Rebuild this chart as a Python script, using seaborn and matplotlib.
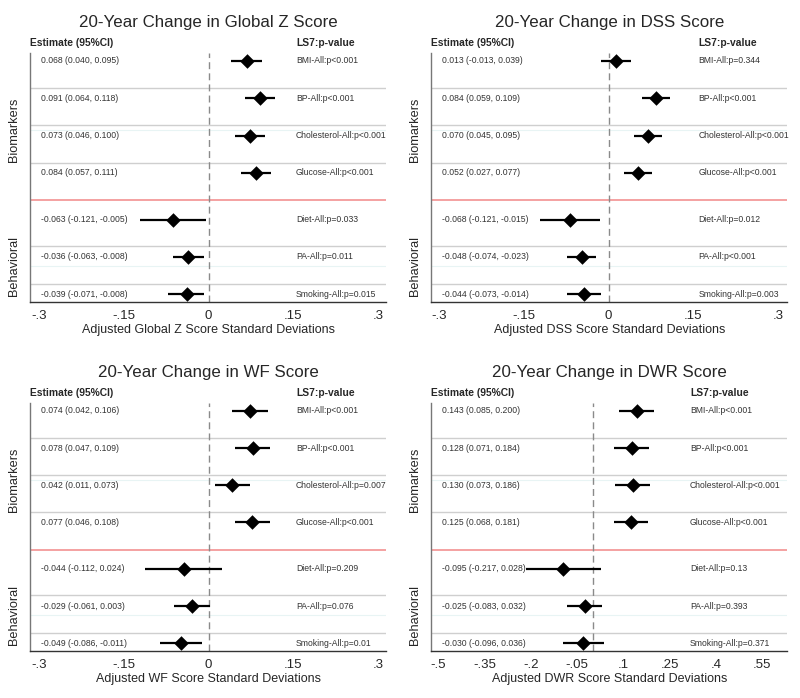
import numpy as np
import pandas as pd
import matplotlib
matplotlib.use("Agg")
import matplotlib.pyplot as plt
import seaborn as sns

# Datos de cada panel
factors = ["BMI", "BP", "Cholesterol", "Glucose", "Diet", "PA", "Smoking"]
groups = ["Biomarkers", "Behavioral"]

global_est = [0.068, 0.091, 0.073, 0.084, -0.063, -0.036, -0.039]
global_lo = [0.040, 0.064, 0.046, 0.057, -0.121, -0.063, -0.071]
global_hi = [0.095, 0.118, 0.100, 0.111, -0.005, -0.008, -0.008]
global_p = ["p<0.001", "p<0.001", "p<0.001", "p<0.001", "p=0.033", "p=0.011", "p=0.015"]

dss_est = [0.013, 0.084, 0.070, 0.052, -0.068, -0.048, -0.044]
dss_lo = [-0.013, 0.059, 0.045, 0.027, -0.121, -0.074, -0.073]
dss_hi = [0.039, 0.109, 0.095, 0.077, -0.015, -0.023, -0.014]
dss_p = ["p=0.344", "p<0.001", "p<0.001", "p<0.001", "p=0.012", "p<0.001", "p=0.003"]

wf_est = [0.074, 0.078, 0.042, 0.077, -0.044, -0.029, -0.049]
wf_lo = [0.042, 0.047, 0.011, 0.046, -0.112, -0.061, -0.086]
wf_hi = [0.106, 0.109, 0.073, 0.108, 0.024, 0.003, -0.011]
wf_p = ["p<0.001", "p<0.001", "p=0.007", "p<0.001", "p=0.209", "p=0.076", "p=0.01"]

dwr_est = [0.143, 0.128, 0.130, 0.125, -0.095, -0.025, -0.030]
dwr_lo = [0.085, 0.071, 0.073, 0.068, -0.217, -0.083, -0.096]
dwr_hi = [0.200, 0.184, 0.186, 0.181, 0.028, 0.032, 0.036]
dwr_p = ["p<0.001", "p<0.001", "p<0.001", "p<0.001", "p=0.13", "p=0.393", "p=0.371"]

std_ticks = [-0.3, -0.15, 0, 0.15, 0.3]
std_labels = ["-.3", "-.15", "0", ".15", ".3"]
dwr_ticks = [-0.5, -0.35, -0.2, -0.05, 0.1, 0.25, 0.4, 0.55]
dwr_labels = ["-.5", "-.35", "-.2", "-.05", ".1", ".25", ".4", ".55"]

sns.set_style("white")
plt.rcParams["font.family"] = ["Liberation Sans", "DejaVu Sans"]

fig = plt.figure(figsize=(8, 6.98), dpi=100)

# posiciones verticales de las filas
rows = [0, 1, 2, 3, 4.25, 5.25, 6.25]
seps = [0.72, 1.73, 2.73, 4.96, 5.98]
red_sep = 3.73
group_pos = [1.85, 5.5]


def forest(rect, title, xlabel, est, lo, hi, pv, ticks, tlabels, xlim, lab_x):
    ax = fig.add_axes(rect)
    df = pd.DataFrame({"factor": factors, "est": est, "lo": lo, "hi": hi,
                       "p": pv, "y": rows})
    ax.set_xlim(*xlim)
    ax.set_ylim(6.46, -0.21)

    for g in group_pos:
        ax.axhline(g, color="#e8f4f4", lw=0.8, zorder=0)
    for s in seps:
        ax.axhline(s, color="#cfcfcf", lw=1, zorder=1)
    ax.axhline(red_sep, color="#f39a9a", lw=1.3, zorder=1)
    ax.axvline(0, color="#8a8a8a", lw=1, ls=(0, (5, 3)), zorder=1)

    ax.hlines(df["y"], df["lo"], df["hi"], color="black", lw=1.6, zorder=2)
    sns.scatterplot(data=df, x="est", y="y", marker="D", color="black",
                    s=55, linewidth=0, ax=ax, zorder=3)

    tr = ax.get_yaxis_transform()
    for _, r in df.iterrows():
        ax.text(0.031, r["y"], f"{r['est']:.3f} ({r['lo']:.3f}, {r['hi']:.3f})",
                transform=tr, fontsize=6.2, va="center", ha="left", color="#333")
        ax.text(lab_x, r["y"], f"{r['factor']}-All:{r['p']}",
                transform=tr, fontsize=6.2, va="center", ha="left", color="#333")
    ax.text(0.0, -0.48, "Estimate (95%CI)", transform=tr, fontsize=7.4,
            fontweight="bold", va="center", ha="left", clip_on=False)
    ax.text(lab_x, -0.48, "LS7:p-value", transform=tr, fontsize=7.4,
            fontweight="bold", va="center", ha="left", clip_on=False)

    ax.set_xticks(ticks, tlabels, fontsize=9.5)
    ax.set_yticks(group_pos, groups, rotation=90, va="center", fontsize=9.2)
    ax.tick_params(axis="both", direction="out", length=4, color="#555", width=0.8, pad=2)
    ax.tick_params(axis="y", pad=3)
    ax.set_xlabel(xlabel, fontsize=9, labelpad=1)
    ax.set_ylabel("")
    ax.set_title(title, fontsize=12.2, pad=19)
    for side in ["top", "right"]:
        ax.spines[side].set_visible(False)
    ax.spines["left"].set_color("#777")
    ax.spines["bottom"].set_color("#333")
    ax.spines["left"].set_linewidth(1)
    ax.spines["bottom"].set_linewidth(1)
    return ax


forest([0.0375, 0.5673, 0.445, 0.3567], "20-Year Change in Global Z Score",
       "Adjusted Global Z Score Standard Deviations",
       global_est, global_lo, global_hi, global_p, std_ticks, std_labels,
       (-0.316, 0.314), 0.747)
forest([0.539, 0.5673, 0.445, 0.3567], "20-Year Change in DSS Score",
       "Adjusted DSS Score Standard Deviations",
       dss_est, dss_lo, dss_hi, dss_p, std_ticks, std_labels,
       (-0.314, 0.316), 0.75)
forest([0.0375, 0.0673, 0.445, 0.3553], "20-Year Change in WF Score",
       "Adjusted WF Score Standard Deviations",
       wf_est, wf_lo, wf_hi, wf_p, std_ticks, std_labels,
       (-0.316, 0.314), 0.747)
forest([0.539, 0.0673, 0.445, 0.3553], "20-Year Change in DWR Score",
       "Adjusted DWR Score Standard Deviations",
       dwr_est, dwr_lo, dwr_hi, dwr_p, dwr_ticks, dwr_labels,
       (-0.523, 0.631), 0.727)

fig.savefig("out.png", dpi=100)
